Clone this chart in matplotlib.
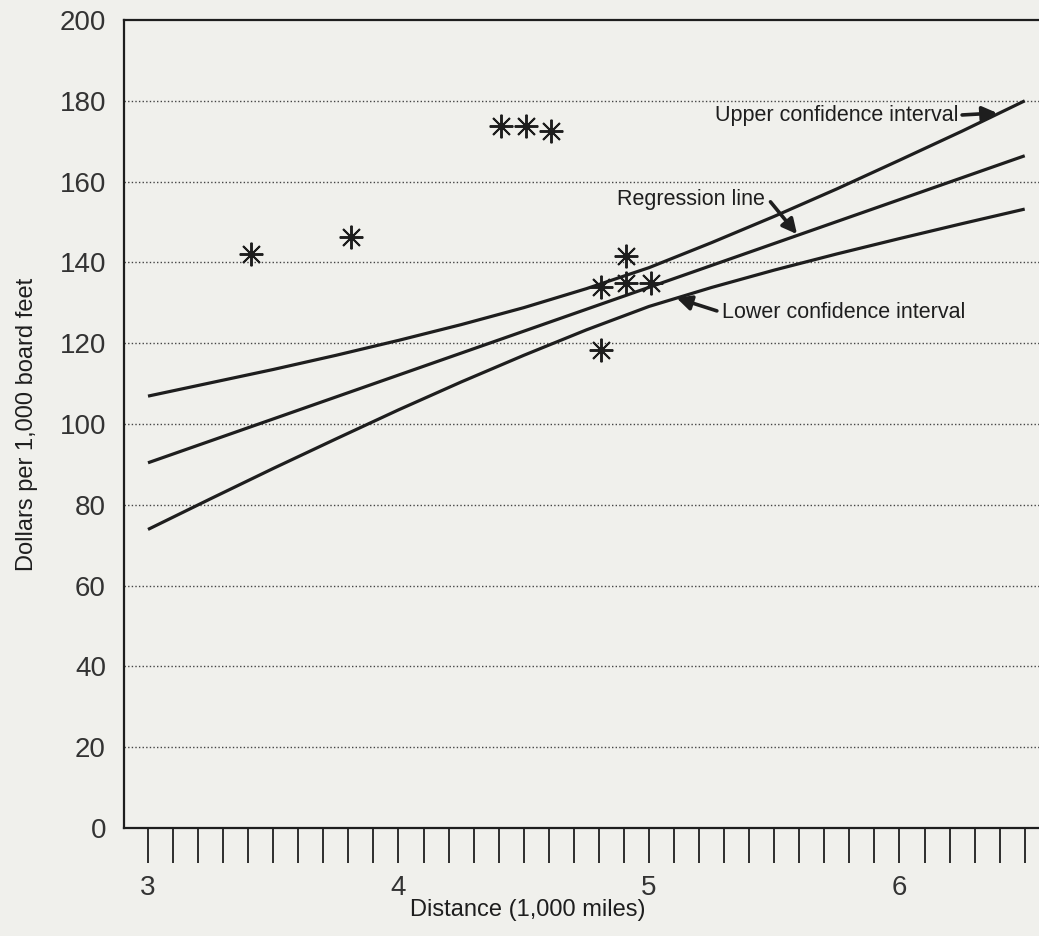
import numpy as np
import matplotlib
matplotlib.use('Agg')
import matplotlib.pyplot as plt
from matplotlib.ticker import MultipleLocator, FixedLocator

plt.rcParams['font.family'] = ['Liberation Sans', 'DejaVu Sans']

# observed points
dist = [3.41, 3.81, 4.41, 4.51, 4.61, 4.81, 4.81, 4.91, 4.91, 5.01]
price = [142.1, 146.4, 173.8, 173.8, 172.6, 133.8, 118.2, 141.7, 134.8, 134.8]

# regression line end points
reg_x = [3.0, 6.5]
reg_y = [90.4, 166.4]

# confidence interval curves
ci_x = [3.0, 3.25, 3.5, 3.75, 4.0, 4.25, 4.5, 4.75, 5.0, 5.25, 5.5, 5.75, 6.0, 6.25, 6.5]
ci_upper = [106.9, 110.2, 113.5, 117.0, 120.7, 124.6, 128.8, 133.5, 138.7, 144.9, 151.4,
            158.2, 165.3, 172.5, 180.0]
ci_lower = [73.9, 81.5, 89.0, 96.3, 103.5, 110.4, 117.0, 123.3, 129.1, 133.8, 138.1,
            142.1, 145.9, 149.6, 153.2]

bg = '#f0f0ec'
ink = '#1e1e1e'

fig = plt.figure(figsize=(10.39, 9.36), dpi=100, facecolor=bg)
ax = fig.add_axes([0.1193, 0.1154, 0.8807, 0.8632], facecolor=bg)

ax.plot(reg_x, reg_y, color=ink, lw=2.3, solid_capstyle='butt')
ax.plot(ci_x, ci_upper, color=ink, lw=2.3, solid_capstyle='butt')
ax.plot(ci_x, ci_lower, color=ink, lw=2.3, solid_capstyle='butt')
ax.plot(dist, price, linestyle='none', marker=(8, 2, 0), markersize=17,
        markeredgewidth=1.4, color=ink)

arrow = dict(arrowstyle='-|>', lw=2.6, color=ink, mutation_scale=22,
             shrinkA=0, shrinkB=0)
ax.text(6.234, 176.4, 'Upper confidence interval', ha='right', va='center',
        fontsize=15.5, color=ink)
ax.annotate('', xy=(6.39, 177.0), xytext=(6.25, 176.5), arrowprops=arrow)
ax.text(5.463, 155.6, 'Regression line', ha='right', va='center',
        fontsize=15.5, color=ink)
ax.annotate('', xy=(5.591, 147.0), xytext=(5.485, 155.0), arrowprops=arrow)
ax.text(5.291, 127.7, 'Lower confidence interval', ha='left', va='center',
        fontsize=15.5, color=ink)
ax.annotate('', xy=(5.11, 131.2), xytext=(5.271, 128.0), arrowprops=arrow)

ax.set_xlim(2.904, 6.557)
ax.set_ylim(0, 200)

ax.yaxis.set_major_locator(MultipleLocator(20))
ax.xaxis.set_major_locator(FixedLocator([3, 4, 5, 6]))
ax.xaxis.set_minor_locator(FixedLocator(np.arange(30, 66) / 10))
ax.set_xticklabels(['3', '4', '5', '6'])

ax.tick_params(axis='y', length=0, pad=13, labelsize=20, labelcolor='#333333')
ax.tick_params(axis='x', which='both', direction='out', length=25, width=1.3,
               color=ink, pad=9, labelsize=20, labelcolor='#333333')

for y in range(20, 200, 20):
    ax.axhline(y, color='#444444', lw=1.0, linestyle=(0, (1, 1.6)), zorder=0)

ax.spines['right'].set_visible(False)
for s in ['left', 'top', 'bottom']:
    ax.spines[s].set_linewidth(1.6)
    ax.spines[s].set_color(ink)

ax.set_xlabel('Distance (1,000 miles)', fontsize=17, color=ink)
ax.xaxis.set_label_coords(0.4415, -0.088)
ax.set_ylabel('Dollars per 1,000 board feet', fontsize=17, color=ink, va='center')
ax.yaxis.set_label_coords(-0.106, 0.5)

fig.savefig('out.png', dpi=100, facecolor=bg)
